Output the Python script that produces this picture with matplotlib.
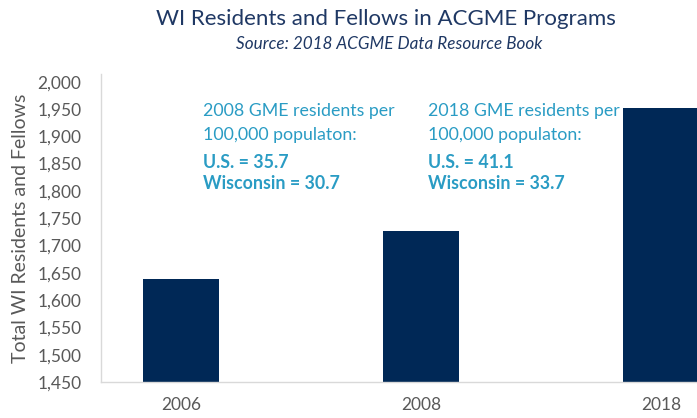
import matplotlib.pyplot as plt
from matplotlib.ticker import FuncFormatter

plt.rcParams['font.family'] = ['Lato', 'DejaVu Sans']

# data
years = ["2006", "2008", "2018"]
residents = [1638, 1726, 1951]
note_2008 = ["2008 GME residents per", "100,000 populaton:", "U.S. = 35.7", "Wisconsin = 30.7"]
note_2018 = ["2018 GME residents per", "100,000 populaton:", "U.S. = 41.1", "Wisconsin = 33.7"]

navy = "#002856"
teal = "#2A9CC4"
grey = "#595959"

W, H = 697, 418
fig = plt.figure(figsize=(W / 100, H / 100), dpi=100)
# axes: left spine at x~101, bottom at y~382, top at y~74, runs off the right edge
ax = fig.add_axes([101 / W, (H - 382) / H, 1 - 101 / W, (382 - 74) / H])

x = list(range(len(years)))
ax.bar(x, residents, width=0.317, color=navy, zorder=2)
ax.set_xlim(-0.333, 2.148)
ax.set_ylim(1450, 2014)
ax.set_yticks(range(1450, 2001, 50))
ax.yaxis.set_major_formatter(FuncFormatter(lambda v, p: f"{int(v):,}"))
ax.set_xticks(x)
ax.set_xticklabels(years)
ax.tick_params(length=0, labelsize=12.5, labelcolor=grey)
ax.tick_params(axis="x", pad=11)
ax.tick_params(axis="y", pad=14)

for s in ["top", "right"]:
    ax.spines[s].set_visible(False)
for s in ["left", "bottom"]:
    ax.spines[s].set_color("#D9D9D9")
    ax.spines[s].set_linewidth(1.0)

ax.set_ylabel("Total WI Residents and Fellows", fontsize=14, color=grey, labelpad=6)

fig.text(386 / W, 1 - 25 / H, "WI Residents and Fellows in ACGME Programs",
         ha="center", va="baseline", fontsize=16, color="#1F3864")
fig.text(389 / W, 1 - 49 / H, "Source: 2018 ACGME Data Resource Book",
         ha="center", va="baseline", fontsize=12.3, style="italic", color="#1F3864")

# annotation blocks, baselines in pixels from the top
line_y = [115.5, 140, 167.5, 189]
for left, note in [(203, note_2008), (428, note_2018)]:
    for i, (t, yy) in enumerate(zip(note, line_y)):
        fig.text(left / W, 1 - yy / H, t, ha="left", va="baseline",
                 fontsize=12.8, color=teal, fontweight="bold" if i >= 2 else "normal")

fig.savefig("out.png", dpi=100)
